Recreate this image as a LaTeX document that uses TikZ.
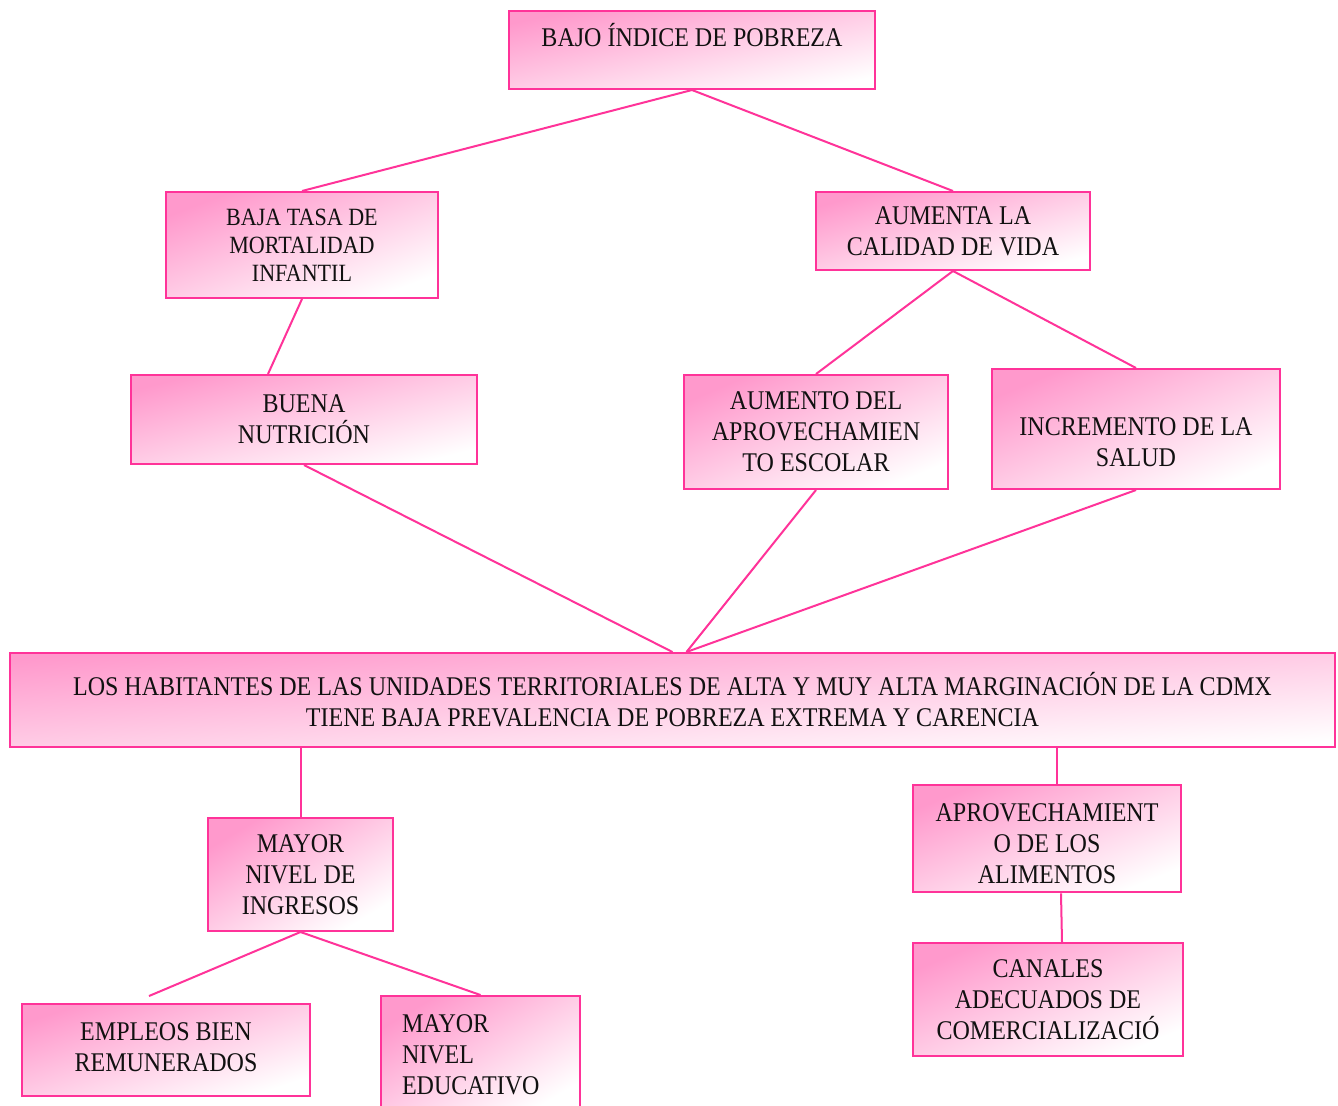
\documentclass[tikz,border=0pt]{standalone}
\usepackage{fontspec}
\setmainfont{Liberation Serif}[FakeStretch=0.89]
\usepackage{xcolor}
\usepackage{tikz}
\usetikzlibrary{calc}
\definecolor{edge}{HTML}{FF3399}
\definecolor{rosa}{HTML}{FF99CC}
\definecolor{ink}{HTML}{111111}
\tikzset{
  box/.style={draw=edge, line width=1pt, top color=rosa, bottom color=white, shading angle=#1,
    align=center, inner sep=2pt, text=ink, font=\fontsize{13.5}{15.5}\selectfont},
  box/.default=20,
  link/.style={draw=edge, line width=1pt},
}
\begin{document}
\begin{tikzpicture}[x=0.5pt, y=-0.5pt]
  \path[fill=white] (0,0) rectangle (1338,1105);
  \useasboundingbox (0,0) rectangle (1338,1105);

  \node[box=12, minimum width=183pt, minimum height=39pt, text height=9.5pt, text depth=12.9pt] (pobreza) at (692,50) {BAJO ÍNDICE DE POBREZA};
  \node[box=21, minimum width=136pt, minimum height=53pt, font=\fontsize{12.4}{14}\selectfont] (mortalidad) at (302,245) {BAJA TASA DE\\MORTALIDAD\\INFANTIL};
  \node[box=16, minimum width=137pt, minimum height=39pt] (calidad) at (953,231) {AUMENTA LA\\CALIDAD DE VIDA};
  \node[box=14, minimum width=173pt, minimum height=44.5pt] (nutricion) at (304,419.5) {BUENA\\NUTRICIÓN};
  \node[box=23, minimum width=132pt, minimum height=57pt] (escolar) at (816,432) {AUMENTO DEL\\APROVECHAMIEN\\TO ESCOLAR};
  \node[box=23, minimum width=144pt, minimum height=60pt, text height=41.5pt, text depth=4pt] (salud) at (1136,429) {INCREMENTO DE LA\\SALUD};
  \node[box=4, minimum width=662.5pt, minimum height=47pt] (habitantes) at (672.5,700) {LOS HABITANTES DE LAS UNIDADES TERRITORIALES DE ALTA Y MUY ALTA MARGINACIÓN DE LA CDMX\\TIENE BAJA PREVALENCIA DE POBREZA EXTREMA Y CARENCIA};
  \node[box=31, minimum width=92.5pt, minimum height=56.5pt] (ingresos) at (300.5,874.5) {MAYOR\\NIVEL DE\\INGRESOS};
  \node[box=22, minimum width=134pt, minimum height=53.5pt, text height=47.5pt, text depth=2.4pt] (alimentos) at (1047,838.5) {APROVECHAMIENT\\O DE LOS\\ALIMENTOS};
  \node[box=18, minimum width=144pt, minimum height=46pt, text height=23.5pt, text depth=1.9pt] (empleos) at (166,1050) {EMPLEOS BIEN\\REMUNERADOS};
  \node[box=31, minimum width=99.5pt, minimum height=59pt, align=left, text width=78.5pt, inner xsep=10.5pt] (educativo) at (480.5,1055) {MAYOR\\NIVEL\\EDUCATIVO};
  \node[box=23, minimum width=135pt, minimum height=56.5pt] (canales) at (1048,999.5) {CANALES\\ADECUADOS DE\\COMERCIALIZACIÓ};

  \coordinate (hubA) at (habitantes.north);
  \coordinate (hubB) at ($(habitantes.north)+(14,0)$);
  \coordinate (empleos-top) at (149,996);

  \draw[link] (pobreza.south) -- (mortalidad.north);
  \draw[link] (pobreza.south) -- (calidad.north);
  \draw[link] (mortalidad.south) -- ([xshift=-18pt]nutricion.north);
  \draw[link] (calidad.south) -- (escolar.north);
  \draw[link] (calidad.south) -- (salud.north);
  \draw[link] (nutricion.south) -- (hubA);
  \draw[link] (escolar.south) -- (hubB);
  \draw[link] (salud.south) -- (hubB);
  \draw[link] (ingresos.north |- habitantes.south) -- (ingresos.north);
  \draw[link] ([xshift=5pt]alimentos.north |- habitantes.south) -- ([xshift=5pt]alimentos.north);
  \draw[link] ([xshift=7pt]alimentos.south) -- ([xshift=7pt]canales.north);
  \draw[link] (ingresos.south) -- (empleos-top);
  \draw[link] (ingresos.south) -- (educativo.north);
\end{tikzpicture}
\end{document}
